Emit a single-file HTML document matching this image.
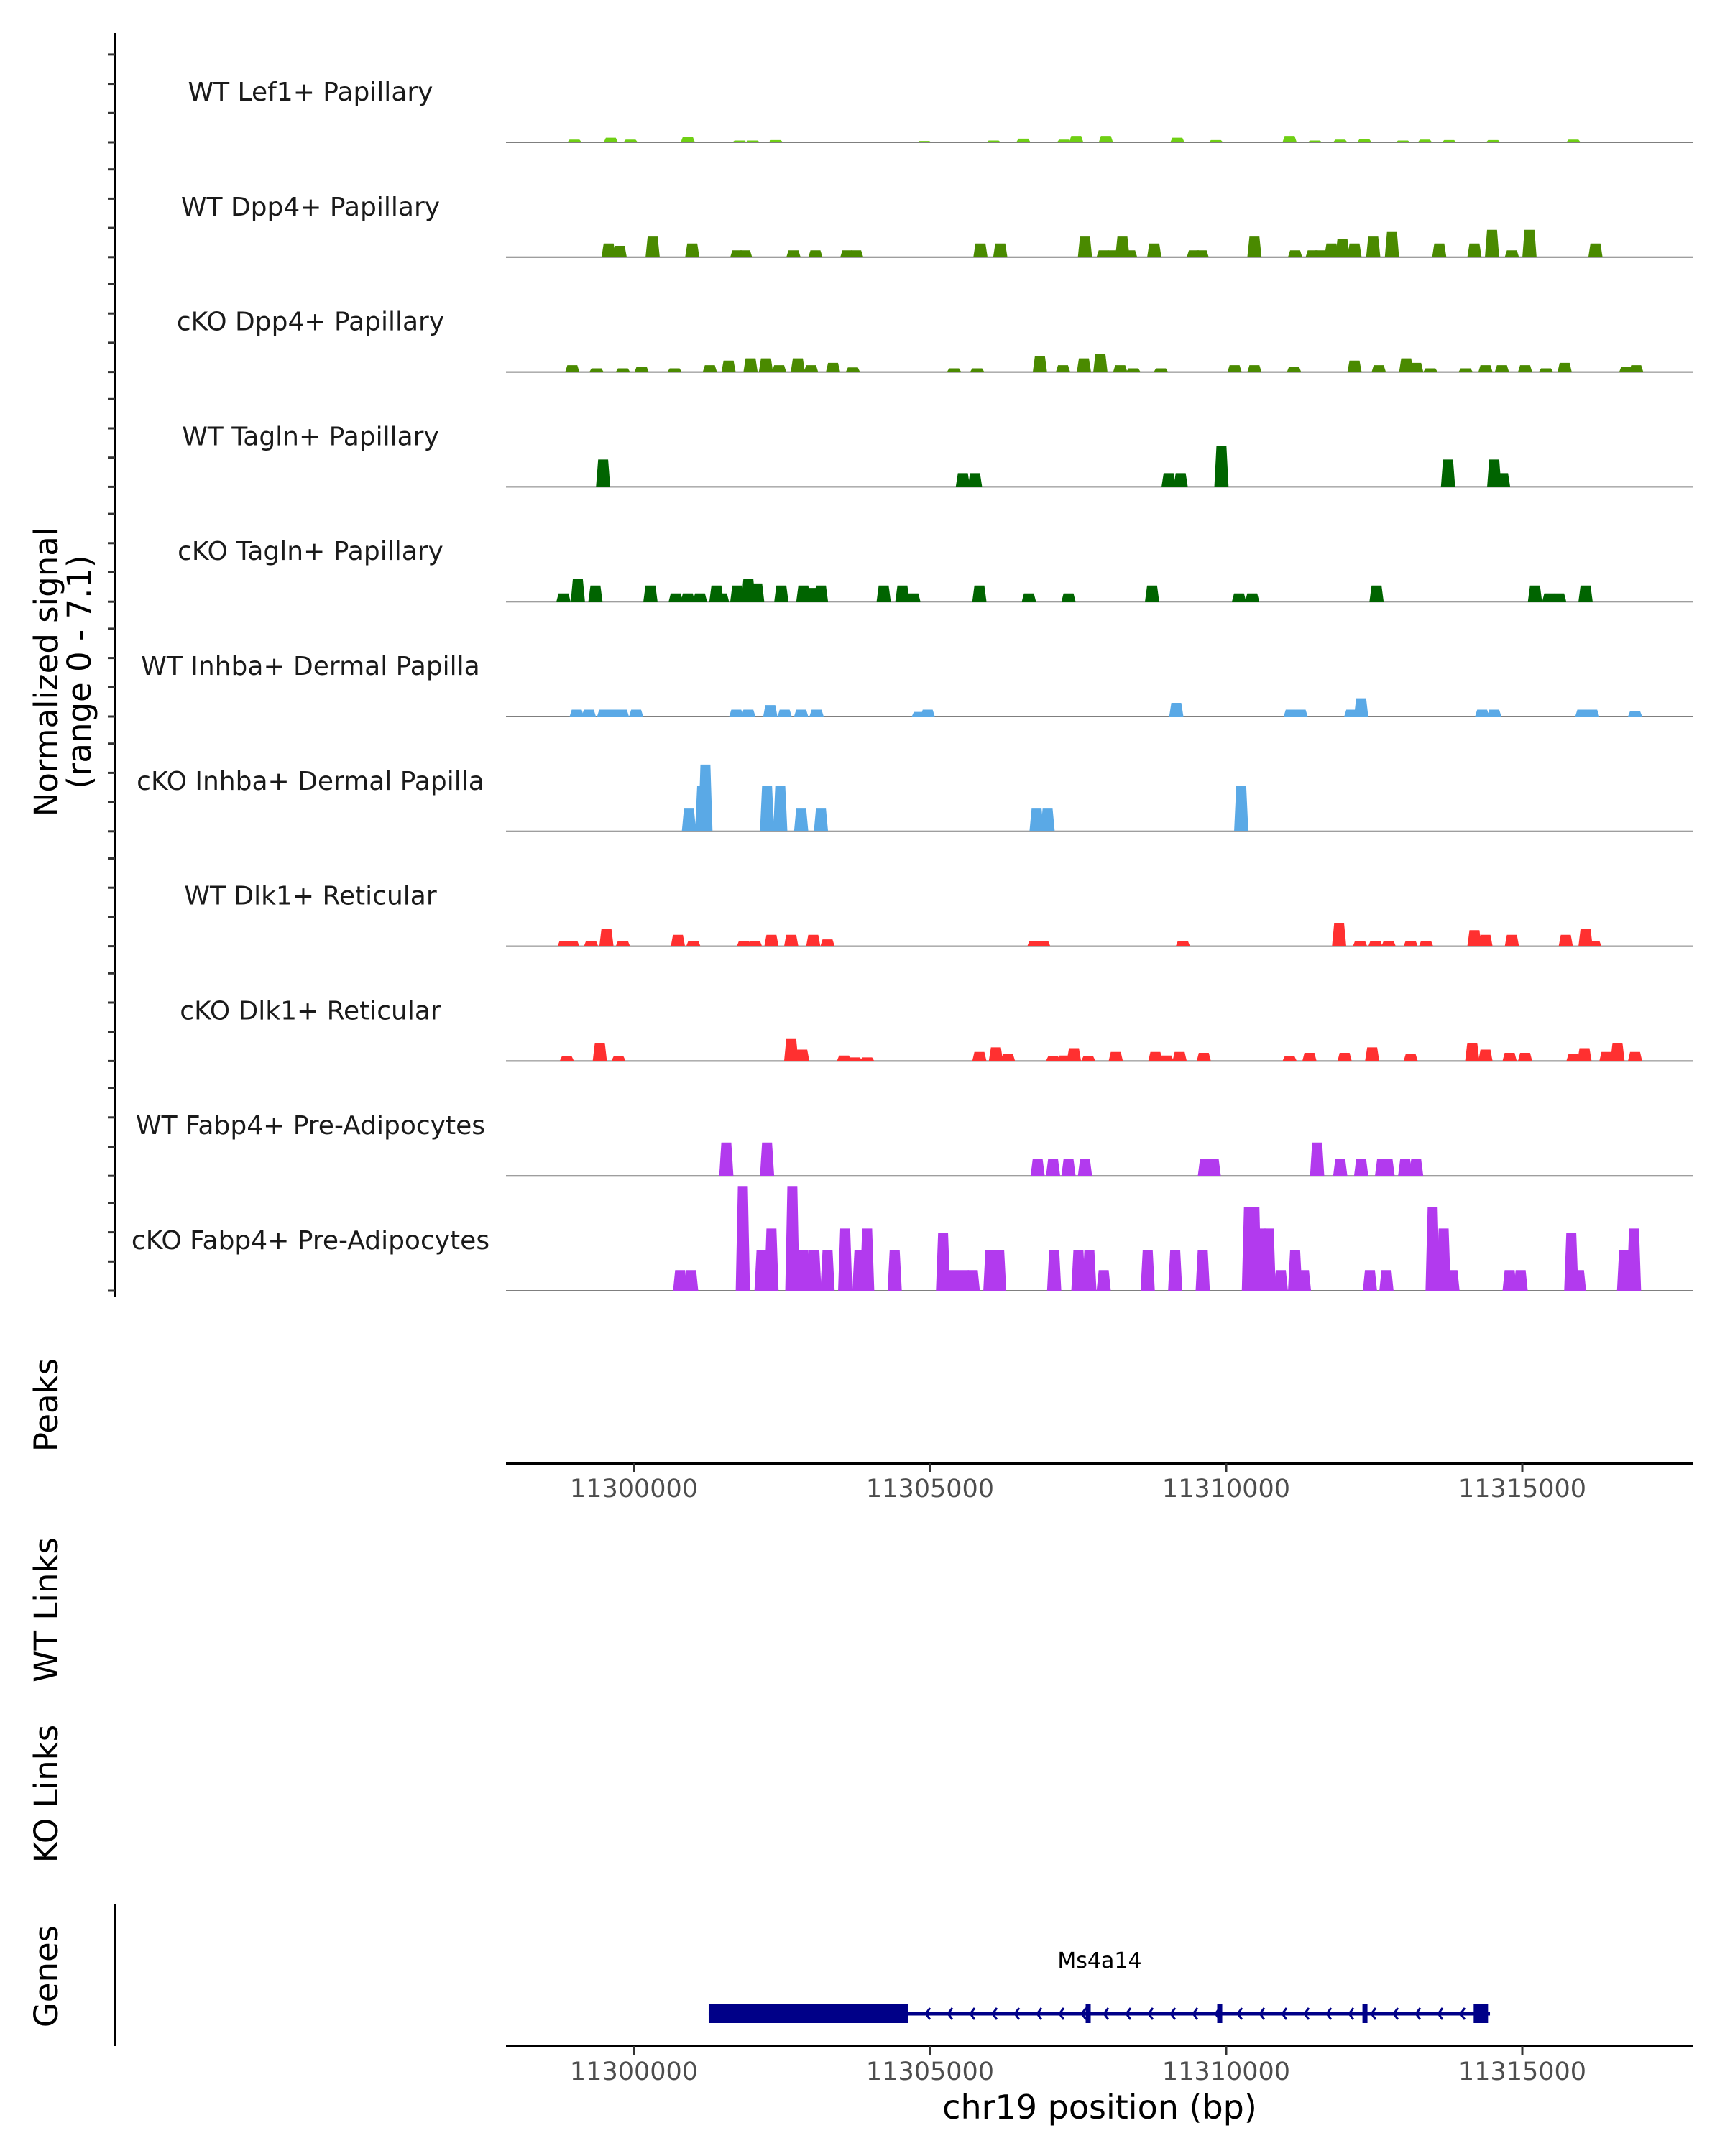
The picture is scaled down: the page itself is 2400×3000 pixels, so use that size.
<!DOCTYPE html>
<html><head><meta charset="utf-8"><style>
html,body{margin:0;padding:0;background:#fff}
svg{display:block;font-family:"DejaVu Sans","Liberation Sans",sans-serif}
</style></head><body>
<svg id="chart" width="2400" height="3000" viewBox="0 0 2400 3000" xmlns="http://www.w3.org/2000/svg">
<rect width="2400" height="3000" fill="#fff"/>
<g id="tracks"></g>
<g id="yaxis"></g>
<text transform="translate(80,935) rotate(-90)" text-anchor="middle" font-size="45" fill="#000">Normalized signal</text>
<text transform="translate(126,935) rotate(-90)" text-anchor="middle" font-size="45" fill="#000">(range 0 - 7.1)</text>
<text transform="translate(80,1955) rotate(-90)" text-anchor="middle" font-size="45" fill="#000">Peaks</text>
<text transform="translate(80,2240) rotate(-90)" text-anchor="middle" font-size="45" fill="#000">WT Links</text>
<text transform="translate(80,2496) rotate(-90)" text-anchor="middle" font-size="45" fill="#000">KO Links</text>
<text transform="translate(80,2750) rotate(-90)" text-anchor="middle" font-size="45" fill="#000">Genes</text>
<line x1="160" y1="2649" x2="160" y2="2847" stroke="#000" stroke-width="3"/>
<g id="axis1"></g>
<g id="axis2"></g>
<g id="gene"></g>
<text x="1530" y="2948" text-anchor="middle" font-size="46" fill="#000">chr19 position (bp)</text>
</svg>
<script>
const REF = 11300000;
const xDomain = [11297840, 11317876];
const xTicks = [11300000, 11305000, 11310000, 11315000];
const trackNames = ["WT Lef1+ Papillary","WT Dpp4+ Papillary","cKO Dpp4+ Papillary","WT Tagln+ Papillary","cKO Tagln+ Papillary","WT Inhba+ Dermal Papilla","cKO Inhba+ Dermal Papilla","WT Dlk1+ Reticular","cKO Dlk1+ Reticular","WT Fabp4+ Pre-Adipocytes","cKO Fabp4+ Pre-Adipocytes"];
const trackColors = ["#6fcf14","#4a8a00","#4a8a00","#006400","#006400","#5aa9e6","#5aa9e6","#ff3030","#ff3030","#b23aee","#b23aee"];
const yMax = 7.1;
// peak positions: offsets in bp from chr19:11,300,000 ; values: normalized signal
const t1Pos = [-1003,-390,-56,910,1783,2006,2396,4904,6074,6576,7263,7468,7969,9176,9827,11071,11499,11926,12334,12985,13356,13765,14508,15864];
const t1Val = [.18,.3,.18,.36,.12,.12,.15,.09,.12,.24,.18,.42,.42,.3,.15,.42,.12,.18,.21,.12,.18,.15,.15,.18];
const t2Pos = [-427,-241,316,985,1746,1876,2694,3065,3604,3752,5851,6186,7616,7932,8081,8248,8378,8786,9455,9585,10477,11164,11461,11591,11777,11963,12167,12483,12799,13598,14192,14489,14824,15121,16235];
const t2Val = [.9,.75,1.36,.9,.45,.45,.45,.45,.45,.45,.9,.9,1.36,.45,.45,1.36,.45,.9,.45,.45,1.36,.45,.45,.45,.9,1.2,.9,1.36,1.66,.9,.9,1.8,.45,1.8,.9];
const t3Pos = [-1040,-632,-186,130,687,1282,1598,1969,2229,2452,2768,2991,3362,3697,5406,5796,6855,7245,7598,7876,8211,8433,8898,10142,10477,11146,12167,12576,13040,13208,13449,14043,14378,14656,15047,15400,15715,16756,16923];
const t3Val = [.45,.24,.24,.36,.24,.45,.75,.9,.9,.45,.9,.45,.6,.3,.24,.24,1.06,.45,.9,1.2,.45,.24,.24,.45,.45,.36,.75,.45,.9,.6,.24,.24,.45,.45,.45,.24,.6,.36,.45];
const t4Pos = [-520,5554,5759,9028,9232,9920,13746,14526,14675];
const t4Val = [1.8,.9,.9,.9,.9,2.7,1.8,1.8,.9];
const t5Pos = [-1189,-947,-650,279,706,910,1115,1393,1486,1746,1932,2081,2489,2861,3009,3158,4217,4533,4718,5833,6669,7338,8749,10217,10440,12539,15214,15455,15622,16068];
const t5Val = [.54,1.5,1.06,1.06,.54,.54,.54,1.06,.54,1.06,1.5,1.2,1.06,1.06,.9,1.06,1.06,1.06,.54,1.06,.54,.54,1.06,.54,.54,1.06,1.06,.54,.54,1.06];
const t6Pos = [-966,-762,-502,-353,-204,37,1728,1932,2303,2545,2824,3084,4811,4960,9158,11090,11257,12112,12279,14322,14526,16013,16180,16904];
const t6Val = [.45,.45,.45,.45,.45,.45,.45,.45,.75,.45,.45,.45,.3,.45,.9,.45,.45,.45,1.2,.45,.45,.45,.45,.36];
const t7Pos = [929,1152,1207,2248,2471,2824,3158,6799,6985,10254];
const t7Val = [1.5,3.0,4.4,3.0,3.0,1.5,1.5,1.5,1.5,3.0];
const t8Pos = [-1170,-1040,-724,-464,-186,743,1003,1858,2043,2322,2656,3028,3269,6762,6910,9269,11907,12260,12520,12743,13115,13375,14192,14378,14824,15734,16068,16217];
const t8Val = [.36,.36,.36,1.15,.36,.75,.36,.36,.36,.75,.75,.75,.45,.36,.36,.36,1.5,.36,.36,.36,.36,.36,1.06,.75,.75,.75,1.15,.36];
const t9Pos = [-1133,-576,-260,2656,2842,3548,3734,3938,5833,6112,6316,7077,7263,7430,7672,8136,8805,8991,9214,9622,11071,11406,12000,12465,13115,14155,14378,14786,15047,15864,16050,16421,16607,16904];
const t9Val = [.3,1.2,.3,1.45,.75,.36,.24,.24,.6,.9,.45,.3,.36,.85,.3,.6,.6,.36,.6,.54,.3,.54,.54,.9,.45,1.2,.75,.54,.54,.45,.85,.6,1.2,.6];
const t10Pos = [1560,2248,6817,7077,7338,7616,9641,9790,11536,11926,12279,12632,12725,13022,13208];
const t10Val = [2.2,2.2,1.1,1.1,1.1,1.1,1.1,1.1,2.2,1.1,1.1,1.1,1.1,1.1,1.1];
const t11Pos = [780,966,1839,2155,2322,2675,2861,3046,3269,3567,3808,3938,4403,5220,5406,5573,5721,6019,6167,7096,7505,7690,7932,8675,9139,9604,10384,10477,10588,10718,10923,11164,11313,12427,12706,13486,13672,13821,14786,14972,15827,15957,16719,16886];
const t11Val = [1.36,1.36,6.9,2.7,4.1,6.9,2.7,2.7,2.7,4.1,2.7,4.1,2.7,3.8,1.36,1.36,1.36,2.7,2.7,2.7,2.7,2.7,1.36,2.7,2.7,2.7,5.5,5.5,4.1,4.1,1.36,2.7,1.36,1.36,1.36,5.5,4.1,1.36,1.36,1.36,3.8,1.36,2.7,4.1];
const trackPos = [t1Pos,t2Pos,t3Pos,t4Pos,t5Pos,t6Pos,t7Pos,t8Pos,t9Pos,t10Pos,t11Pos];
const trackVal = [t1Val,t2Val,t3Val,t4Val,t5Val,t6Val,t7Val,t8Val,t9Val,t10Val,t11Val];
const geneStart = 11301262, geneThickEnd = 11304624, geneEnd = 11314454;
const geneExons = [11307670, 11309891, 11312343, 11314300];

const NS = "http://www.w3.org/2000/svg";
const X0 = 704, X1 = 2355;
function xScale(bp){ return X0 + (bp - xDomain[0]) / (xDomain[1] - xDomain[0]) * (X1 - X0); }
const base0 = 198, trackStep = 159.8, trackH = 150;
function baseY(i){ return base0 + i*trackStep; }
function yScale(i, v){ return baseY(i) - v / yMax * trackH; }
function mk(tag, attrs, parent){ const e = document.createElementNS(NS, tag); for (const k in attrs) e.setAttribute(k, attrs[k]); parent.appendChild(e); return e; }

const tracksG = document.getElementById('tracks');
trackNames.forEach((name, i) => {
  const g = mk('g', {}, tracksG);
  
  
  const lab = mk('text', {x: 432, y: baseY(i) - 58, 'text-anchor': 'middle', 'font-size': 36, fill: '#1a1a1a'}, g);
  
  
  lab.textContent = name;
  const bl = mk('line', {x1: X0, x2: X1, y1: baseY(i), y2: baseY(i), stroke: '#7f7f7f', 'stroke-width': 2}, g);
  
  
  const hw = 120;
  trackPos[i].forEach((off, j) => {
    const c = REF + off, v = trackVal[i][j];
    const b = baseY(i), t = yScale(i, v);
    const pts = [[xScale(c-hw), b],[xScale(c-hw*0.7), t],[xScale(c+hw*0.7), t],[xScale(c+hw), b]].map(p => p.join(',')).join(' ');
    const p = mk('polygon', {points: pts, fill: trackColors[i]}, g);
    
    
  });
});

const ya = document.getElementById('yaxis');
mk('line', {x1: 160, y1: 46, x2: 160, y2: 1805, stroke: '#000', 'stroke-width': 3}, ya);
for (let i = 0; i < trackNames.length; i++) {
  for (let k = 0; k < 4; k++) {
    const y = baseY(i) - k * 40.7;
    const tk = mk('line', {x1: 150, x2: 160, y1: y, y2: y, stroke: '#333', 'stroke-width': 3}, ya);
    
    
  }
}

function drawAxis(g, y){
  mk('line', {x1: X0, x2: X1, y1: y, y2: y, stroke: '#000', 'stroke-width': 4}, g);
  xTicks.forEach(t => {
    const x = xScale(t);
    const tk = mk('line', {x1: x, x2: x, y1: y, y2: y+12, stroke: '#333', 'stroke-width': 3}, g);
    
    
    const tl = mk('text', {x: x, y: y + 47, 'text-anchor': 'middle', 'font-size': 35, fill: '#4d4d4d'}, g);
    
    
    tl.textContent = t;
  });
}
drawAxis(document.getElementById('axis1'), 2036);
drawAxis(document.getElementById('axis2'), 2847);

const gg = document.getElementById('gene');
const gy = 2802, navy = '#000088';
mk('line', {x1: xScale(geneStart), x2: xScale(geneEnd), y1: gy, y2: gy, stroke: navy, 'stroke-width': 5}, gg);
const tb = mk('rect', {x: xScale(geneStart), y: gy-13, width: xScale(geneThickEnd)-xScale(geneStart), height: 26, fill: navy}, gg);


geneExons.forEach((e, j) => {
  const w = j === geneExons.length-1 ? 20 : 7;
  const r = mk('rect', {x: xScale(e) - w/2, y: gy-13, width: w, height: 26, fill: navy}, gg);
  
  
});
for (let x = xScale(geneThickEnd) + 25; x < xScale(geneEnd) - 12; x += 31) {
  mk('polyline', {points: `${x+6},${gy-8} ${x},${gy} ${x+6},${gy+8}`, fill: 'none', stroke: navy, 'stroke-width': 3}, gg);
}
const gl = mk('text', {x: 1530, y: 2738, 'text-anchor': 'middle', 'font-size': 30, fill: '#000'}, gg);


gl.textContent = 'Ms4a14';
</script>
</body></html>
